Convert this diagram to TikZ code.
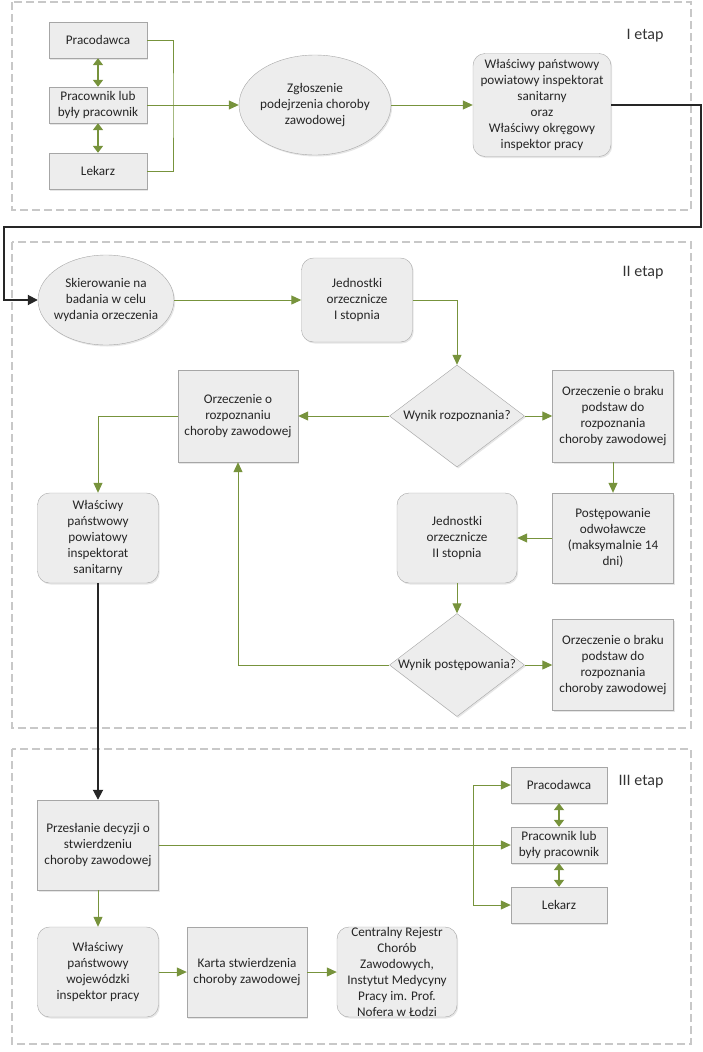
\documentclass[tikz,border=0pt]{standalone}
\usepackage{fontspec}
\setmainfont{Carlito}
\usepackage{tikz}
\usepackage{xcolor}
\usetikzlibrary{arrows.meta,shapes.geometric,shadows}
\definecolor{stepgreen}{RGB}{119,147,60}
\definecolor{boxline}{RGB}{166,166,166}
\definecolor{boxfill}{RGB}{237,237,237}
\definecolor{framegray}{RGB}{200,200,200}

\begin{document}
\begin{tikzpicture}[x=1pt, y=-1pt,
    every node/.style={font=\fontsize{13.2}{16.1}\selectfont, text=black!85},
    box/.style={draw=boxline, fill=boxfill, align=center, inner sep=0pt,
        drop shadow={opacity=0.2, shadow xshift=1.2pt, shadow yshift=-1.5pt}},
    rbox/.style={box, rounded corners=12pt},
    oval/.style={box, ellipse, inner sep=-6pt},
    decision/.style={box, diamond, shape aspect=1.32},
    gline/.style={draw=stepgreen, line width=1pt},
    garrow/.style={gline, -{Triangle[length=10pt, width=9pt]}},
    biarrow/.style={draw=stepgreen, line width=2.6pt,
        {Triangle[length=7pt, width=10pt]}-{Triangle[length=7pt, width=10pt]}},
    karrow/.style={draw=black!85, line width=1.8pt, -{Triangle[length=10pt, width=10pt]}},
    frame/.style={draw=framegray, line width=1.2pt, dash pattern=on 8pt off 4pt},
    etap/.style={font=\fontsize{16}{19}\selectfont, text=black!80, anchor=east}]

    \useasboundingbox (0,0) rectangle (703,1052);

    \draw[frame] (12,2) rectangle (691,210);
    \draw[frame] (12,242) rectangle (691,728);
    \draw[frame] (12,749) rectangle (691,1044);
    \node[etap] (et1) at (667,36) {I etap};
    \node[etap] (et2) at (667,273) {II etap};
    \node[etap] (et3) at (667,782) {III etap};

    \node[box, minimum width=98pt, minimum height=36pt] (prac1) at (98,40) {Pracodawca};
    \node[box, minimum width=98pt, minimum height=36pt] (prw1) at (98,105) {Pracownik lub\\były pracownik};
    \node[box, minimum width=98pt, minimum height=36pt] (lek1) at (98,171) {Lekarz};
    \node[oval, minimum width=152pt, minimum height=100pt] (zgl) at (315,105) {Zgłoszenie\\podejrzenia choroby\\zawodowej};
    \node[rbox, minimum width=138pt, minimum height=103pt] (wis) at (542,105) {Właściwy państwowy\\powiatowy inspektorat\\sanitarny\\oraz\\Właściwy okręgowy\\inspektor pracy};
    \coordinate (j1) at (173,105);
    \coordinate (c1) at (701,227);
    \coordinate (c2) at (4,227);

    \draw[biarrow] (prac1) -- (prw1);
    \draw[biarrow] (prw1) -- (lek1);
    \draw[gline] (prac1.east) -| (j1) |- (lek1.east);
    \draw[garrow] (prw1.east) -- (zgl.west);
    \draw[garrow] (zgl.east) -- (wis.west);

    \node[oval, minimum width=136pt, minimum height=90pt] (skier) at (106,300) {Skierowanie na\\badania w celu\\wydania orzeczenia};
    \node[rbox, minimum width=111pt, minimum height=84pt] (jed1) at (357,300) {Jednostki\\orzecznicze\\I stopnia};
    \node[decision, minimum width=135pt, minimum height=102pt] (wyn1) at (457,416) {Wynik rozpoznania?};
    \node[box, minimum width=121pt, minimum height=92pt] (brak1) at (613,416) {Orzeczenie o braku\\podstaw do\\rozpoznania\\choroby zawodowej};
    \node[box, minimum width=120pt, minimum height=92pt] (rozp) at (238,416) {Orzeczenie o\\rozpoznaniu\\choroby zawodowej};
    \node[rbox, minimum width=121pt, minimum height=90pt] (wsan) at (98,538) {Właściwy\\państwowy\\powiatowy\\inspektorat\\sanitarny};
    \node[box, minimum width=121pt, minimum height=90pt] (odw) at (613,538) {Postępowanie\\odwoławcze\\(maksymalnie 14\\dni)};
    \node[rbox, minimum width=120pt, minimum height=90pt] (jed2) at (457,538) {Jednostki\\orzecznicze\\II stopnia};
    \node[decision, minimum width=135pt, minimum height=103pt] (wyn2) at (457,665) {Wynik postępowania?};
    \node[box, minimum width=121pt, minimum height=91pt] (brak2) at (613,665) {Orzeczenie o braku\\podstaw do\\rozpoznania\\choroby zawodowej};

    \draw[karrow] (wis.east) -| (c1) -- (c2) |- (skier.west);
    \draw[garrow] (skier.east) -- (jed1.west);
    \draw[garrow] (jed1.east) -| (wyn1.north);
    \draw[garrow] (wyn1.east) -- (brak1.west);
    \draw[garrow] (wyn1.west) -- (rozp.east);
    \draw[garrow] (rozp.west) -| (wsan.north);
    \draw[garrow] (brak1.south) -- (odw.north);
    \draw[garrow] (odw.west) -- (jed2.east);
    \draw[garrow] (jed2.south) -- (wyn2.north);
    \draw[garrow] (wyn2.east) -- (brak2.west);
    \draw[garrow] (wyn2.west) -| (rozp.south);

    \node[box, minimum width=121pt, minimum height=90pt] (przes) at (98,845) {Przesłanie decyzji o\\stwierdzeniu\\choroby zawodowej};
    \node[box, minimum width=96pt, minimum height=36pt] (prac3) at (559,785) {Pracodawca};
    \node[box, minimum width=96pt, minimum height=36pt] (prw3) at (559,845) {Pracownik lub\\były pracownik};
    \node[box, minimum width=96pt, minimum height=36pt] (lek3) at (559,905) {Lekarz};
    \node[rbox, minimum width=121pt, minimum height=90pt] (wwoj) at (98,972) {Właściwy\\państwowy\\wojewódzki\\inspektor pracy};
    \node[box, minimum width=120pt, minimum height=90pt] (karta) at (247,972) {Karta stwierdzenia\\choroby zawodowej};
    \node[rbox, minimum width=120pt, minimum height=90pt] (crcz) at (397,972) {Centralny Rejestr\\Chorób\\Zawodowych,\\Instytut Medycyny\\Pracy im. Prof.\\Nofera w Łodzi};
    \coordinate (j3) at (473,845);

    \draw[karrow] (wsan.south) -- (przes.north);
    \draw[garrow] (przes.east) -- (prw3.west);
    \draw[garrow] (j3) |- (prac3.west);
    \draw[garrow] (j3) |- (lek3.west);
    \draw[biarrow] (prac3) -- (prw3);
    \draw[biarrow] (prw3) -- (lek3);
    \draw[garrow] (przes.south) -- (wwoj.north);
    \draw[garrow] (wwoj.east) -- (karta.west);
    \draw[garrow] (karta.east) -- (crcz.west);
\end{tikzpicture}
\end{document}
